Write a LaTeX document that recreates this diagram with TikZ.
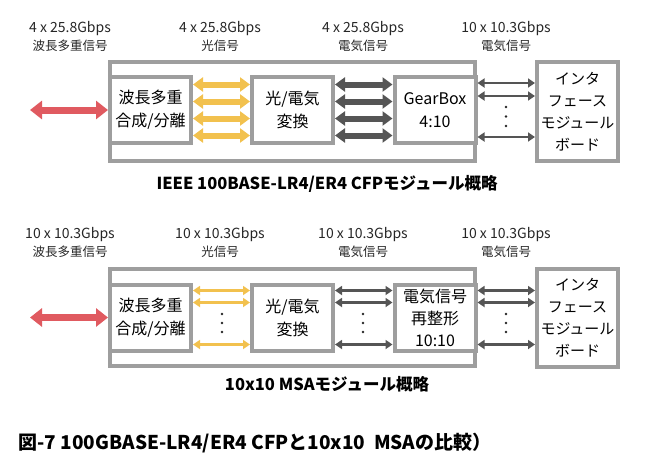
\documentclass[tikz,border=0pt]{standalone}
\usepackage{fontspec}
\setmainfont{Noto Sans CJK JP}
\usetikzlibrary{arrows.meta,positioning}
\definecolor{boxgray}{HTML}{9E9E9E}
\definecolor{fibred}{HTML}{E05A60}
\definecolor{optyel}{HTML}{F2C14E}
\definecolor{eledark}{HTML}{555555}
\newcommand{\gbps}[1]{{\fontsize{14}{18}\selectfont #1}}

\begin{document}
\begin{tikzpicture}[x=1pt, y=1pt,
  mod/.style={draw=boxgray, line width=4pt, minimum width=365pt, minimum height=99pt, inner sep=0pt},
  blk/.style={draw=boxgray, line width=4pt, fill=white, align=center, minimum width=81pt, minimum height=66pt, inner sep=0pt, font=\fontsize{16}{23}\selectfont},
  card/.style={draw=boxgray, line width=4pt, align=center, minimum width=81pt, minimum height=99pt, inner sep=0pt, font=\fontsize{15}{22}\selectfont},
  rate/.style={align=center, text=black!85, font=\fontsize{12.5}{18}\selectfont},
  ttl/.style={font=\bfseries\fontsize{16.5}{18}\selectfont},
  fib/.style={{Triangle[length=12pt,width=18pt]}-{Triangle[length=12pt,width=18pt]}, line width=7pt, draw=fibred},
  opt/.style={{Triangle[length=10pt,width=14pt]}-{Triangle[length=10pt,width=14pt]}, line width=6pt, draw=optyel},
  ele/.style={{Triangle[length=10pt,width=14pt]}-{Triangle[length=10pt,width=14pt]}, line width=6pt, draw=eledark},
  optthin/.style={{Triangle[length=7pt,width=9pt]}-{Triangle[length=7pt,width=9pt]}, line width=2.5pt, draw=optyel},
  elethin/.style={{Triangle[length=7pt,width=9pt]}-{Triangle[length=7pt,width=9pt]}, line width=2.5pt, draw=eledark},
  dot/.style={circle, fill=black!85, inner sep=0pt, minimum size=2.8pt}
]
\useasboundingbox (0,0) rectangle (655,-463);

% CFP module
\node[rate] (r11) at (70,-36) {\gbps{4 x 25.8Gbps}\\波長多重信号};
\node[rate] (r12) at (220,-36) {\gbps{4 x 25.8Gbps}\\光信号};
\node[rate] (r13) at (363,-36) {\gbps{4 x 25.8Gbps}\\電気信号};
\node[rate] (r14) at (506,-36) {\gbps{10 x 10.3Gbps}\\電気信号};

\node[mod] (mod1) at (292.5,-111.5) {};
\node[blk] (mux1) at (150.5,-110) {波長多重\\合成/分離};
\node[blk] (oe1) at (292.5,-110) {光/電気\\変換};
\node[blk] (gear1) at (435,-110) {GearBox\\4:10};
\node[card] (if1) at (577.5,-111.5) {インタ\\フェース\\モジュール\\ボード};

\coordinate (fib1) at (30,-110);
\draw[fib] (fib1) -- (mux1.west);

\draw[opt] ([yshift=25.5pt]mux1.east) -- ([yshift=25.5pt]oe1.west);
\draw[opt] ([yshift=8.5pt]mux1.east) -- ([yshift=8.5pt]oe1.west);
\draw[opt] ([yshift=-8.5pt]mux1.east) -- ([yshift=-8.5pt]oe1.west);
\draw[opt] ([yshift=-25.5pt]mux1.east) -- ([yshift=-25.5pt]oe1.west);

\draw[ele] ([yshift=25.5pt]oe1.east) -- ([yshift=25.5pt]gear1.west);
\draw[ele] ([yshift=8.5pt]oe1.east) -- ([yshift=8.5pt]gear1.west);
\draw[ele] ([yshift=-8.5pt]oe1.east) -- ([yshift=-8.5pt]gear1.west);
\draw[ele] ([yshift=-25.5pt]oe1.east) -- ([yshift=-25.5pt]gear1.west);

\draw[elethin] ([yshift=27pt]gear1.east) -- ([yshift=27pt]gear1.east-|if1.west);
\draw[elethin] ([yshift=14pt]gear1.east) -- ([yshift=14pt]gear1.east-|if1.west);
\draw[elethin] ([yshift=-27pt]gear1.east) -- ([yshift=-27pt]gear1.east-|if1.west);
\node[dot] (d11) at (506,-107) {};
\node[dot] (d12) at (506,-116.5) {};
\node[dot] (d13) at (506,-126) {};

\node[ttl] (t1) at (327,-184) {IEEE 100BASE-LR4/ER4 CFPモジュール概略};

% 10x10 MSA module
\node[rate] (r21) at (70,-242.5) {\gbps{10 x 10.3Gbps}\\波長多重信号};
\node[rate] (r22) at (220,-242.5) {\gbps{10 x 10.3Gbps}\\光信号};
\node[rate] (r23) at (363,-242.5) {\gbps{10 x 10.3Gbps}\\電気信号};
\node[rate] (r24) at (506,-242.5) {\gbps{10 x 10.3Gbps}\\電気信号};

\node[mod, minimum height=97pt] (mod2) at (292.5,-317.5) {};
\node[blk] (mux2) at (150.5,-317.5) {波長多重\\合成/分離};
\node[blk] (oe2) at (292.5,-317.5) {光/電気\\変換};
\node[blk, font=\fontsize{16}{22}\selectfont] (shp2) at (435,-317.5) {電気信号\\再整形\\10:10};
\node[card, minimum height=98pt] (if2) at (577.5,-318) {インタ\\フェース\\モジュール\\ボード};

\coordinate (fib2) at (30,-317.5);
\draw[fib] (fib2) -- (mux2.west);

\draw[optthin] ([yshift=27pt]mux2.east) -- ([yshift=27pt]oe2.west);
\draw[optthin] ([yshift=15pt]mux2.east) -- ([yshift=15pt]oe2.west);
\draw[optthin] ([yshift=-27pt]mux2.east) -- ([yshift=-27pt]oe2.west);
\node[dot] (d21) at (222,-314) {};
\node[dot] (d22) at (222,-323) {};
\node[dot] (d23) at (222,-332) {};

\draw[elethin] ([yshift=27pt]oe2.east) -- ([yshift=27pt]shp2.west);
\draw[elethin] ([yshift=15pt]oe2.east) -- ([yshift=15pt]shp2.west);
\draw[elethin] ([yshift=-27pt]oe2.east) -- ([yshift=-27pt]shp2.west);
\node[dot] (d24) at (363,-314) {};
\node[dot] (d25) at (363,-323) {};
\node[dot] (d26) at (363,-332) {};

\draw[elethin] ([yshift=27pt]shp2.east) -- ([yshift=27pt]shp2.east-|if2.west);
\draw[elethin] ([yshift=15pt]shp2.east) -- ([yshift=15pt]shp2.east-|if2.west);
\draw[elethin] ([yshift=-27pt]shp2.east) -- ([yshift=-27pt]shp2.east-|if2.west);
\node[dot] (d27) at (506,-314) {};
\node[dot] (d28) at (506,-323) {};
\node[dot] (d29) at (506,-332) {};

\node[ttl] (t2) at (327,-384) {10x10 MSAモジュール概略};

\node[anchor=west, font=\bfseries\fontsize{19}{22}\selectfont] (cap) at (15,-443) {図-7 100GBASE-LR4/ER4 CFPと10x10\ \ MSAの比較）};

\end{tikzpicture}
\end{document}
